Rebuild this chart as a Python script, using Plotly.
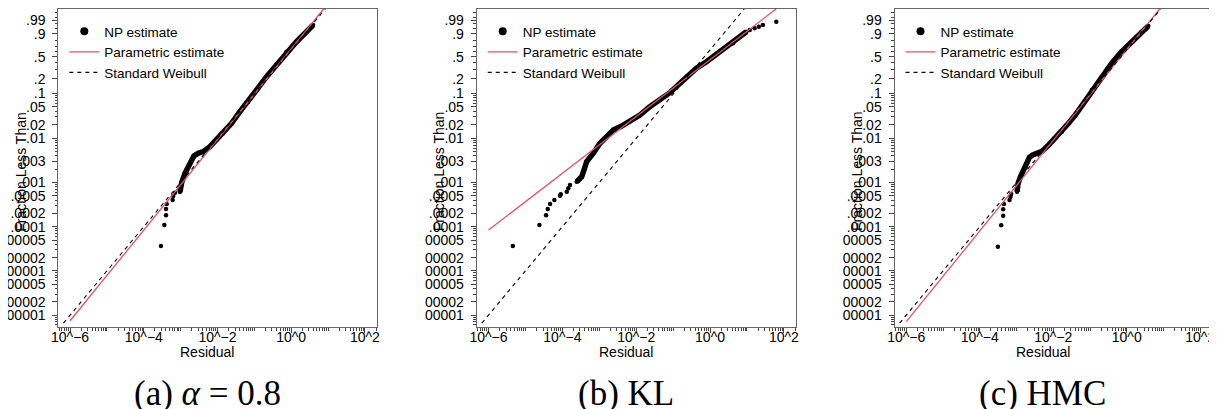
import numpy as np
import plotly.graph_objects as go

# page is 1217x409; the html body keeps its default 8px margin
OFF = 8
W, H = 1217 - OFF, 409 - OFF

# ---- (a) alpha = 0.8 : residual values and fraction less than
a_tail_x = [2.92e-4, 3.60e-4, 4.00e-4, 4.00e-4, 4.18e-4, 6.07e-4, 6.30e-4, 7.01e-4]
a_tail_p = [3.66e-5, 1.09e-4, 1.81e-4, 2.51e-4, 3.27e-4, 4.02e-4, 4.95e-4, 5.87e-4]
a_np_x = [9.57e-4, 1.064e-3, 1.309e-3, 1.607e-3, 1.987e-3, 2.29e-3, 3.00e-3, 4.09e-3,
          6.22e-3, 9.46e-3, 0.01427, 0.0241, 0.0405, 0.0679, 0.1148, 0.2143, 0.400,
          0.746, 1.393, 2.60, 3.92]
a_np_p = [6.10e-4, 9.89e-4, 1.614e-3, 2.275e-3, 3.23e-3, 3.98e-3, 4.58e-3, 4.98e-3,
          6.46e-3, 9.16e-3, 0.01289, 0.0216, 0.0392, 0.0651, 0.1165, 0.2194, 0.3656,
          0.5977, 0.784, 0.9243, 0.9743]
a_param_x = [1e-6, 7.66]
a_param_p = [7.46e-7, 0.9998]

# ---- (b) KL
b_tail_x = [4.56e-6, 2.39e-5, 3.62e-5, 4.03e-5, 4.65e-5, 6.08e-5, 8.67e-5, 9.05e-5,
            1.315e-4, 1.45e-4, 1.61e-4, 11.9, 16.1, 21.0, 27.0, 62.4]
b_tail_p = [3.66e-5, 1.09e-4, 1.81e-4, 2.51e-4, 3.27e-4, 4.02e-4, 5.02e-4, 5.41e-4,
            6.19e-4, 7.40e-4, 8.77e-4, 0.940, 0.954, 0.965, 0.9743, 0.9870]
b_np_x = [2.45e-4, 3.34e-4, 3.86e-4, 4.56e-4, 6.89e-4, 1.045e-3, 1.585e-3, 2.39e-3,
          4.03e-3, 6.76e-3, 0.01259, 0.0234, 0.0437, 0.0814, 0.1365, 0.230, 0.4285,
          0.80, 1.828, 4.19, 9.64]
b_np_p = [1.04e-3, 1.352e-3, 1.92e-3, 2.96e-3, 4.58e-3, 7.70e-3, 0.0108, 0.0153,
          0.0188, 0.0247, 0.0331, 0.0506, 0.0710, 0.1020, 0.1485, 0.2194, 0.3187,
          0.4177, 0.5977, 0.7556, 0.9243]
b_param_x = [1e-6, 62.4]
b_param_p = [8.41e-5, 0.9998]

# ---- (c) HMC
c_tail_x = [3.11e-4, 3.83e-4, 4.34e-4, 4.34e-4, 4.53e-4, 6.46e-4, 6.87e-4, 7.14e-4]
c_tail_p = [3.53e-5, 1.08e-4, 1.77e-4, 2.48e-4, 3.27e-4, 4.02e-4, 4.78e-4, 5.50e-4]
c_np_x = [1.038e-3, 1.104e-3, 1.283e-3, 1.482e-3, 1.754e-3, 2.02e-3, 2.25e-3, 2.77e-3,
          3.61e-3, 4.94e-3, 7.50e-3, 0.0114, 0.0172, 0.0261, 0.0397, 0.0667, 0.1119,
          0.209, 0.390, 0.728, 1.358, 2.54, 3.85]
c_np_p = [6.19e-4, 9.59e-4, 1.352e-3, 1.754e-3, 2.275e-3, 2.96e-3, 3.72e-3, 4.19e-3,
          4.58e-3, 5.08e-3, 7.05e-3, 0.00995, 0.0140, 0.0216, 0.0331, 0.0600, 0.1165,
          0.2194, 0.392, 0.5977, 0.784, 0.9243, 0.969]
c_param_x = [1e-6, 7.98]
c_param_p = [7.1e-7, 0.9998]

# standard Weibull reference line (same in every panel)
std_x = [6.6e-7, 8.5]
std_p = [6.6e-7, 0.9998]

# axis labels
y_probs = [.99, .9, .5, .2, .1, .05, .02, .01, .003, .001, .0005, .0002, .0001,
           .00005, .00002, .00001, .000005, .000002, .000001]
y_labels = [".99", ".9", ".5", ".2", ".1", ".05", ".02", ".01", ".003", ".001",
            ".0005", ".0002", ".0001", "00005", "00002", "00001", "00005", "00002", "00001"]
x_ticks = [1e-6, 1e-4, 1e-2, 1, 100]
x_labels = ["10^\u22126", "10^\u22124", "10^\u22122", "10^0", "10^2"]
captions = ["(a) <i>\u03b1</i> = 0.8", "(b) KL", "(c) HMC"]

RED = "#DF536B"
FONT = "Liberation Sans"


def weib(p):
    # Weibull probability scale: log10(-log(1 - p))
    return np.log10(-np.log1p(-np.asarray(p, dtype=float)))


def px(x):
    return (x - OFF) / W


def py(y):
    return 1 - (y - OFF) / H


minor_p = sorted(set([k * 10.0 ** m for m in range(-7, -1) for k in range(1, 10)]
                     + [k / 10 for k in range(1, 10)] + [.95, .98, .99, .995, .999]))
minor_p = [p for p in minor_p if p not in y_probs]
minor_x = [k * 10.0 ** m for m in range(-7, 3) for k in range(1, 10)
           if not (k == 1 and m % 2 == 0)]

panels = [
    (a_tail_x, a_tail_p, a_np_x, a_np_p, a_param_x, a_param_p),
    (b_tail_x, b_tail_p, b_np_x, b_np_p, b_param_x, b_param_p),
    (c_tail_x, c_tail_p, c_np_x, c_np_p, c_param_x, c_param_p),
]
boxes = [(58.3, 376.7), (476.7, 795.7), (894.5, 1212.0)]
box_top, box_bot = 8.8, 326.9

fig = go.Figure()
layout = dict(width=W, height=H, autosize=False, margin=dict(l=0, r=0, t=0, b=0),
              paper_bgcolor="white", plot_bgcolor="white", annotations=[])

for i, (tx, tp, nx, ny, px_, pp) in enumerate(panels):
    n = "" if i == 0 else str(i + 1)
    xa, ya = "x" + n, "y" + n
    leg = "legend" + n
    # dense part of the NP estimate
    fig.add_trace(go.Scatter(x=nx, y=weib(ny), mode="lines+markers", xaxis=xa, yaxis=ya,
                             line=dict(color="black", width=5.5),
                             marker=dict(color="black", size=4.5), showlegend=False))
    fig.add_trace(go.Scatter(x=tx, y=weib(tp), mode="markers", xaxis=xa, yaxis=ya,
                             marker=dict(color="black", size=4.5), showlegend=False))
    # legend entries
    fig.add_trace(go.Scatter(x=[None], y=[None], mode="markers", xaxis=xa, yaxis=ya,
                             marker=dict(color="black", size=8), name="NP estimate", legend=leg))
    fig.add_trace(go.Scatter(x=px_, y=weib(pp), mode="lines", xaxis=xa, yaxis=ya,
                             line=dict(color=RED, width=1.3), name="Parametric estimate", legend=leg))
    fig.add_trace(go.Scatter(x=std_x, y=weib(std_p), mode="lines", xaxis=xa, yaxis=ya,
                             line=dict(color="black", width=1.1, dash="4px,4px"),
                             name="Standard Weibull", legend=leg))

    x0, x1 = boxes[i]
    layout["xaxis" + n] = dict(
        type="log", range=[-6.32, 2.32], domain=[px(x0), px(x1)], anchor=ya, automargin=False,
        tickvals=x_ticks, ticktext=x_labels, ticks="outside", ticklen=5, ticklabelstandoff=-8,
        tickcolor="#444", showline=True, mirror=True, linecolor="#666", linewidth=1,
        showgrid=False, zeroline=False, tickfont=dict(family=FONT, size=14, color="black"),
        minor=dict(tickmode="array", tickvals=minor_x, ticks="outside", ticklen=3,
                   tickcolor="#444", showgrid=False))
    layout["yaxis" + n] = dict(
        range=[-6.2665, 0.9297], domain=[py(box_bot), py(box_top)], anchor=xa,
        automargin=False, ticklabelstandoff=4,
        tickvals=weib(y_probs), ticktext=y_labels, ticks="outside", ticklen=5,
        tickcolor="#444", showline=True, mirror=True, linecolor="#666", linewidth=1,
        showgrid=False, zeroline=False, tickfont=dict(family=FONT, size=14, color="black"),
        minor=dict(tickmode="array", tickvals=weib(minor_p), ticks="outside", ticklen=2.5,
                   tickcolor="#444", showgrid=False))
    layout[leg] = dict(x=px(x0 + 6), y=py(16), xanchor="left", yanchor="top",
                       bgcolor="rgba(0,0,0,0)", font=dict(family=FONT, size=13.5, color="black"),
                       tracegroupgap=0)

    cx = (x0 + x1) / 2 - 10.5
    layout["annotations"] += [
        dict(text="Residual", x=px(cx), y=py(352), xref="paper", yref="paper",
             xanchor="center", yanchor="middle", showarrow=False,
             font=dict(family=FONT, size=14, color="black")),
        dict(text="Fraction Less Than", x=px(x0 - 38), y=py(171.5), xref="paper",
             yref="paper", xanchor="center", yanchor="middle", textangle=-90, showarrow=False,
             font=dict(family=FONT, size=14, color="black")),
        dict(text=captions[i], x=px(cx), y=py(393), xref="paper", yref="paper",
             xanchor="center", yanchor="middle", showarrow=False,
             font=dict(family="Liberation Serif", size=35, color="black")),
    ]

fig.update_layout(**layout)
fig.write_html("out.html")
